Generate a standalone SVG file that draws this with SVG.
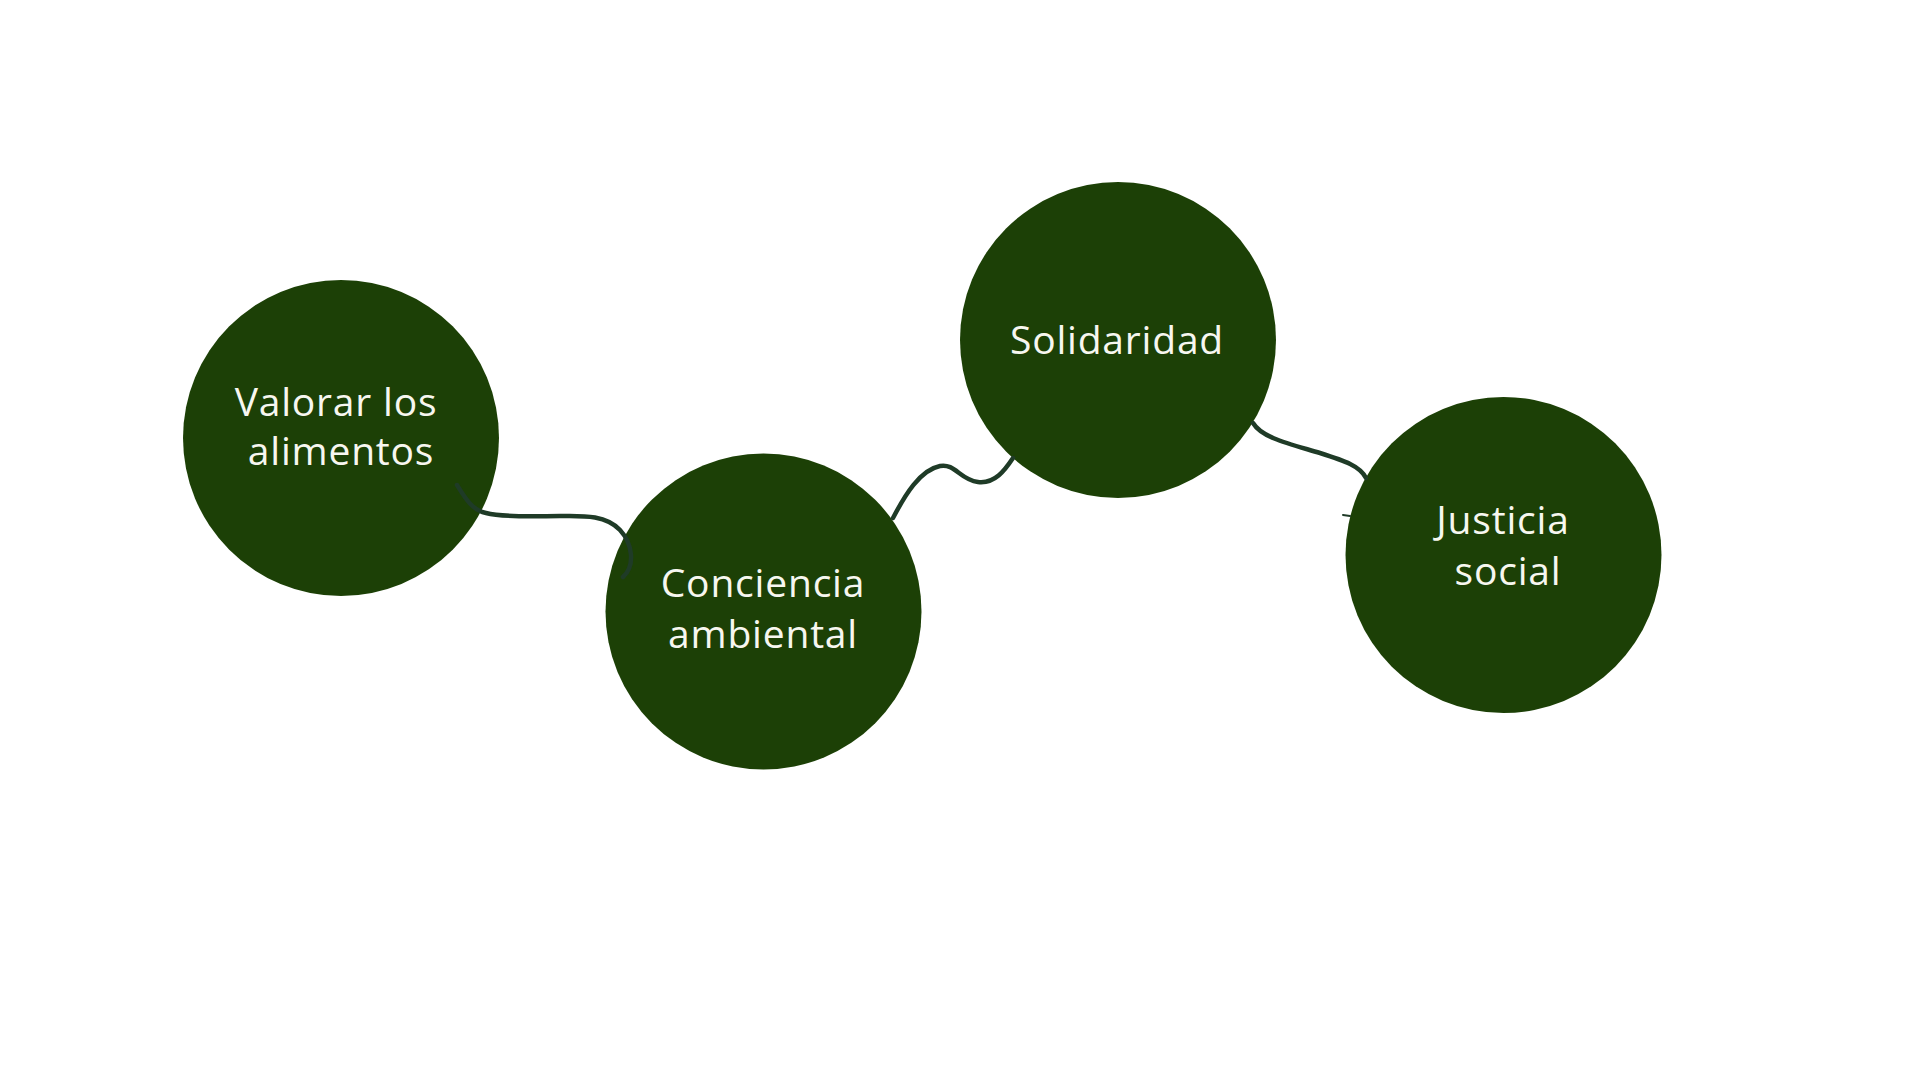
<svg xmlns="http://www.w3.org/2000/svg" width="1920" height="1080" viewBox="0 0 1920 1080">
<style>
.node{fill:#1c4006}
.lbl{font-family:"Open Sans","Noto Sans","DejaVu Sans",sans-serif;font-size:39px;letter-spacing:0.8px;fill:#f7f7f0;text-anchor:middle}
.conn{fill:none;stroke:#1f3b27;stroke-width:4.5;stroke-linecap:round;stroke-linejoin:round}
</style>
<rect width="1920" height="1080" fill="#ffffff"/>
<g id="node-valorar">
<circle class="node" cx="341" cy="438" r="158"/>
<text class="lbl" x="336" y="416">Valorar los</text>
<text class="lbl" x="341" y="465">alimentos</text>
</g>
<g id="node-conciencia">
<circle class="node" cx="763.5" cy="611.5" r="158"/>
<text class="lbl" x="763" y="597">Conciencia</text>
<text class="lbl" x="763" y="648">ambiental</text>
</g>
<g id="node-solidaridad">
<circle class="node" cx="1118" cy="340" r="158"/>
<text class="lbl" x="1117" y="354">Solidaridad</text>
</g>
<g id="node-justicia">
<circle class="node" cx="1503.5" cy="555" r="158"/>
<text class="lbl" x="1503" y="534">Justicia</text>
<text class="lbl" x="1508" y="585">social</text>
</g>
<g id="connectors">
<path class="conn" d="M457,485 C465,498 472,510 486,513 C505,518 540,516 560,516 C580,516 605,514 620,530 C632,543 636,565 623,577"/>
<path class="conn" d="M893,518 C905,495 920,470 940,466 C955,463 960,480 978,482 C995,484 1005,470 1013,458"/>
<path class="conn" d="M1253,423 C1262,438 1290,444 1320,453 C1345,461 1360,466 1366,478"/>
<path class="conn" style="stroke-width:2" d="M1343,515 L1350,516"/>
</g>
</svg>
